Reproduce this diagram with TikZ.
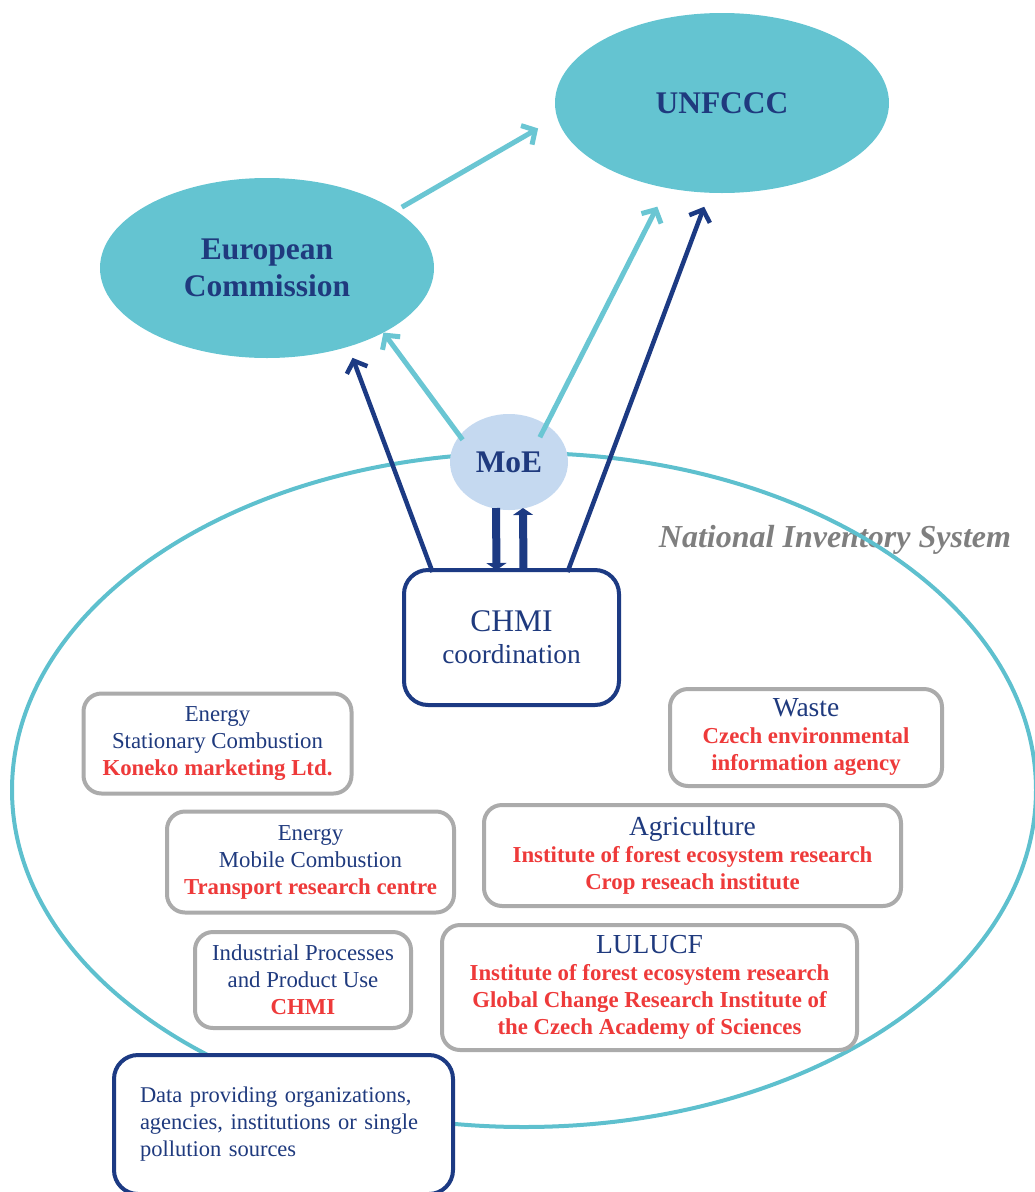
\documentclass[tikz,border=0pt]{standalone}
\usepackage{fontspec}
\setmainfont{Liberation Serif}
\usetikzlibrary{shapes.geometric,arrows.meta,calc}
\definecolor{cyanfill}{HTML}{64C4D1}
\definecolor{nisc}{HTML}{5EC0CE}
\definecolor{lightarr}{HTML}{6AC6D3}
\definecolor{darkb}{HTML}{1C3A83}
\definecolor{moefill}{HTML}{C5D9F0}
\definecolor{grayb}{HTML}{ABABAB}
\definecolor{redt}{HTML}{EE3A3A}
\definecolor{textb}{HTML}{1F3A7E}
\definecolor{nistext}{HTML}{7F7F7F}
\newcommand{\redtxt}[1]{{\color{redt}\bfseries #1}}
\newcommand{\hdr}[1]{{\fontsize{27.5}{27}\selectfont #1}}
\begin{document}
\begin{tikzpicture}[x=1pt,y=-1pt,
  bigell/.style={ellipse, fill=cyanfill, inner sep=0pt, outer sep=0pt,
    minimum width=334pt, minimum height=180pt, text=textb,
    font=\fontsize{31.5}{37}\selectfont\bfseries, align=center},
  moestyle/.style={ellipse, fill=moefill, inner sep=0pt, outer sep=0pt,
    minimum width=118pt, minimum height=96pt, text=textb,
    font=\fontsize{31.5}{34}\selectfont\bfseries},
  graybox/.style={draw=grayb, line width=4pt, rounded corners=18pt, fill=white,
    align=center, text=textb, font=\fontsize{22.8}{27}\selectfont, inner sep=0pt, outer sep=0pt},
  darkbox/.style={draw=darkb, line width=4pt, rounded corners=24pt, fill=white,
    text=textb, inner sep=0pt, outer sep=0pt},
  lightarrow/.style={draw=lightarr, line width=5pt, -{Straight Barb[length=10pt,width=22pt]}},
  darkarrow/.style={draw=darkb, line width=4.5pt, -{Straight Barb[length=10pt,width=22pt]}},
  thickarrow/.style={draw=darkb, line width=8pt, -{Triangle[length=7pt,width=20pt]}}
]
\useasboundingbox (0,0) rectangle (1035,1192);
\clip (0,0) rectangle (1035,1192);

% National inventory system
\node[text=nistext, font=\fontsize{32}{34}\selectfont\bfseries\itshape] (nislabel) at (835,540) {National Inventory System};
\node[ellipse, draw=nisc, line width=4pt, inner sep=0pt, minimum width=1024pt, minimum height=674pt] (nis) at (524,790) {};

% top ellipses
\node[bigell] (ec) at (267,268) {European\\Commission};
\node[bigell] (unf) at (722,103) {UNFCCC};
\node[moestyle] (moe) at (509,462) {MoE};

% CHMI box
\node[darkbox, minimum width=215pt, minimum height=135pt, align=center,
  font=\fontsize{27.4}{32}\selectfont] (chmi) at (511.5,637.5)
  {{\fontsize{31.5}{32}\selectfont CHMI}\\coordination};

% sector boxes
\node[graybox, minimum width=268pt, minimum height=100pt] (es) at (217.5,743.5)
  {Energy\\Stationary Combustion\\\redtxt{Koneko marketing Ltd.}};
\node[graybox, minimum width=287pt, minimum height=101pt] (em) at (310.5,862)
  {Energy\\Mobile Combustion\\\redtxt{Transport research centre}};
\node[graybox, minimum width=216pt, minimum height=96pt] (ip) at (303,980)
  {Industrial Processes\\and Product Use\\\redtxt{CHMI}};
\node[graybox, minimum width=272pt, minimum height=97pt] (waste) at (806,737.5)
  {\hdr{Waste}\\\redtxt{Czech environmental}\\\redtxt{information agency}};
\node[graybox, minimum width=417pt, minimum height=101pt] (agri) at (692.5,855.5)
  {\hdr{Agriculture}\\\redtxt{Institute of forest ecosystem research}\\\redtxt{Crop reseach institute}};
\node[graybox, minimum width=415pt, minimum height=125pt] (lulucf) at (649.5,987.5)
  {\hdr{LULUCF}\\\redtxt{Institute of forest ecosystem research}\\\redtxt{Global Change Research Institute of}\\\redtxt{the Czech Academy of Sciences}};

% data box
\node[darkbox, minimum width=339pt, minimum height=139pt, align=left, text width=287pt,
  font=\fontsize{22.5}{27}\selectfont] (data) at (283.5,1124.5)
  {Data providing organizations,\\agencies, institutions or single\\pollution sources};

% connectors
\draw[lightarrow, shorten <=7pt, shorten >=22pt] (ec.24) -- (unf.-175);
\draw[lightarrow, shorten <=-5pt] (moe.152) -- (ec.-29);
\draw[lightarrow, shorten <=-14pt, shorten >=21pt] (moe.45) -- (unf.-123);
\draw[darkarrow, shorten >=12pt] ($(chmi.north)+(-79,2)$) -- (ec.-44);
\draw[darkarrow, shorten >=15pt] ($(chmi.north)+(56,2)$) -- (unf.-98);
\draw[thickarrow] ($(moe.south)+(-13,-2)$) -- ($(chmi.north)+(-15,0)$);
\draw[thickarrow] ($(chmi.north)+(12,0)$) -- ($(moe.south)+(14,-2)$);
\end{tikzpicture}
\end{document}
